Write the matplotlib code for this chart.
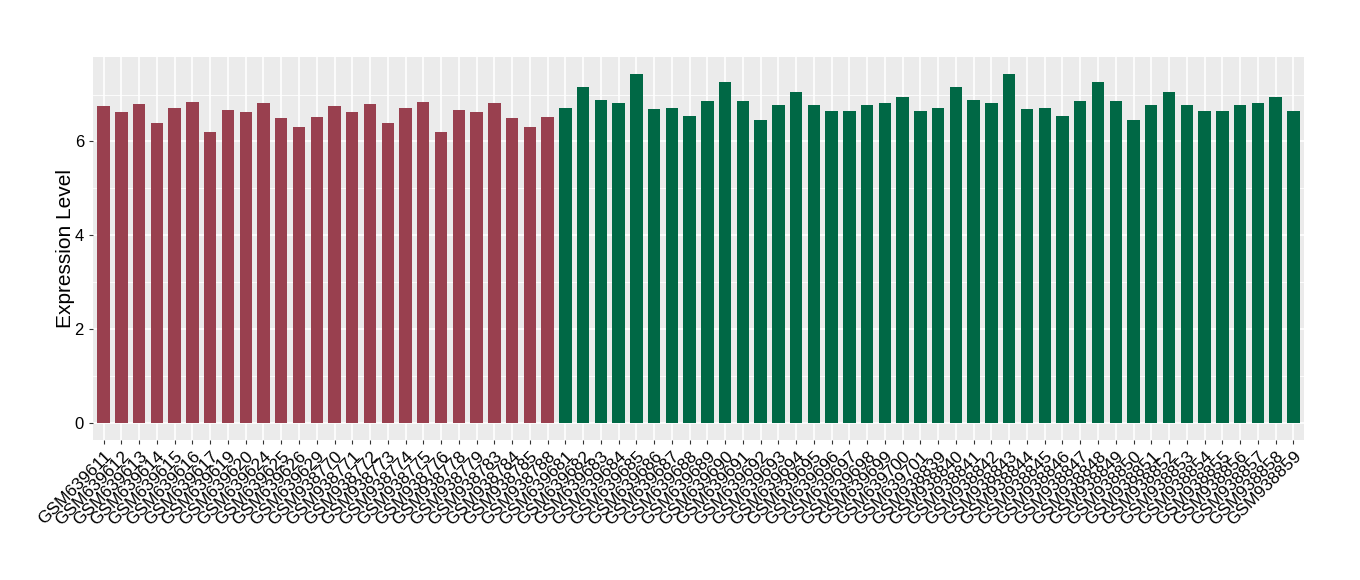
import matplotlib
matplotlib.use("Agg")
import matplotlib.pyplot as plt
from matplotlib.ticker import MultipleLocator

plt.rcParams['font.family'] = ['Liberation Sans', 'DejaVu Sans']

# sample ids, grouped
redSamples = ["GSM639611", "GSM639612", "GSM639613", "GSM639614", "GSM639615", "GSM639616",
              "GSM639617", "GSM639619", "GSM639620", "GSM639624", "GSM639625", "GSM639626",
              "GSM639629", "GSM938770", "GSM938771", "GSM938772", "GSM938773", "GSM938774",
              "GSM938775", "GSM938776", "GSM938778", "GSM938779", "GSM938783", "GSM938784",
              "GSM938785", "GSM938788"]
greenSamples = ["GSM639681", "GSM639682", "GSM639683", "GSM639684", "GSM639685", "GSM639686",
                "GSM639687", "GSM639688", "GSM639689", "GSM639690", "GSM639691", "GSM639692",
                "GSM639693", "GSM639694", "GSM639695", "GSM639696", "GSM639697", "GSM639698",
                "GSM639699", "GSM639700", "GSM639701", "GSM938839", "GSM938840", "GSM938841",
                "GSM938842", "GSM938843", "GSM938844", "GSM938845", "GSM938846", "GSM938847",
                "GSM938848", "GSM938849", "GSM938850", "GSM938851", "GSM938852", "GSM938853",
                "GSM938854", "GSM938855", "GSM938856", "GSM938857", "GSM938858", "GSM938859"]

redValues = [6.75, 6.62, 6.79, 6.40, 6.72, 6.85, 6.21, 6.68, 6.62, 6.83, 6.51, 6.30, 6.53,
             6.75, 6.62, 6.79, 6.40, 6.72, 6.85, 6.21, 6.68, 6.62, 6.83, 6.51, 6.30, 6.53]
greenValues = [6.72, 7.17, 6.89, 6.83, 7.43, 6.70, 6.72, 6.55, 6.87, 7.26, 6.87, 6.45, 6.77,
               7.06, 6.77, 6.66, 6.66, 6.77, 6.83, 6.94, 6.64,
               6.72, 7.17, 6.89, 6.83, 7.43, 6.70, 6.72, 6.55, 6.87, 7.26, 6.87, 6.45, 6.77,
               7.06, 6.77, 6.66, 6.66, 6.77, 6.83, 6.94, 6.64]

redColor = "#99404F"
greenColor = "#006845"

labels = redSamples + greenSamples
values = redValues + greenValues
colors = [redColor] * len(redSamples) + [greenColor] * len(greenSamples)
xs = list(range(1, len(labels) + 1))

fig = plt.figure(figsize=(13.6, 5.8), dpi=100)
ax = fig.add_axes([0.0684, 0.2414, 0.8904, 0.6603])
ax.set_facecolor("#EBEBEB")

ax.bar(xs, values, width=0.7, color=colors, zorder=3)

ymax = max(values)
ax.set_ylim(-0.05 * ymax, ymax * 1.05)
ax.set_xlim(0.4, len(labels) + 0.6)

ax.yaxis.set_major_locator(MultipleLocator(2))
ax.yaxis.set_minor_locator(MultipleLocator(1))
ax.grid(which="major", color="white", linewidth=1.2, zorder=0)
ax.grid(which="minor", axis="y", color="white", linewidth=0.6, zorder=0)

ax.set_xticks(xs)
ax.set_xticklabels(labels, rotation=45, ha="right", rotation_mode="anchor", fontsize=12.5)
ax.tick_params(axis="both", which="major", length=3, color="#333333", labelsize=12)
ax.tick_params(axis="x", labelsize=12.5)
ax.tick_params(axis="y", which="minor", length=0)
ax.tick_params(axis="x", pad=3)

ax.set_ylabel("Expression Level", fontsize=15, labelpad=0)

for s in ax.spines.values():
    s.set_visible(False)

plt.savefig("out.png", dpi=100)
